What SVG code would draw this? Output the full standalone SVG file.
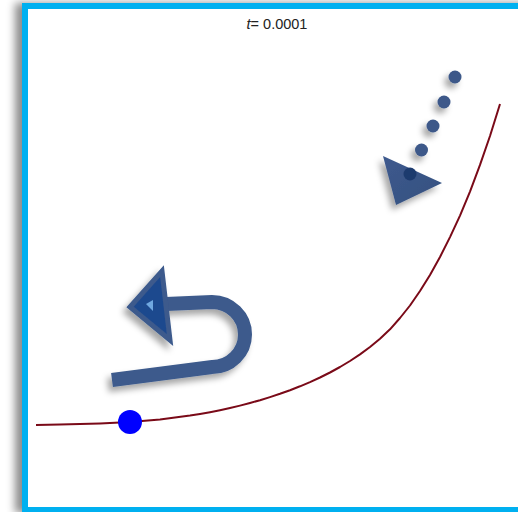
<svg xmlns="http://www.w3.org/2000/svg" width="518" height="512" viewBox="0 0 518 512">
<defs>
<style>
.dot{fill:#3D5889;}
.shape{filter:url(#sh);}
.curve{fill:none;stroke:#7A0A18;stroke-width:2;stroke-linejoin:round;}
.label{font-family:"Liberation Sans",Arial,sans-serif;font-size:14.5px;fill:#222;}
</style>
<filter id="sh" x="-30%" y="-30%" width="160%" height="160%">
<feDropShadow dx="-4" dy="5" stdDeviation="3" flood-color="#000" flood-opacity="0.35"/>
</filter>
<filter id="fsh" x="-10%" y="-10%" width="120%" height="120%">
<feDropShadow dx="-7" dy="0" stdDeviation="4" flood-color="#000" flood-opacity="0.45"/>
</filter>
<filter id="blur"><feGaussianBlur stdDeviation="0.6"/></filter>
<linearGradient id="tg" x1="0" y1="0" x2="1" y2="1">
<stop offset="0" stop-color="#3E5A8E"/>
<stop offset="1" stop-color="#34507F"/>
</linearGradient>
</defs>
<rect width="518" height="512" fill="#fff"/>
<g id="frame">
<rect x="25" y="6" width="510" height="504" fill="#fff" stroke="#00B0F0" stroke-width="6" filter="url(#fsh)"/>
</g>
<g id="title">
<text class="label" x="277" y="29" text-anchor="middle"><tspan font-style="italic">t</tspan>= 0.0001</text>
</g>
<g id="connectors">
<path class="curve" d="M36,425 L60,424.6 L80,424.1 L100,423.4 L130,422 L160,419.5 L190,415.6 L200,414 L210,412.2 L220,410.2 L230,408 L240,405.6 L250,403 L260,400.2 L270,397.1 L280,393.8 L290,390.2 L300,386.3 L310,382.1 L320,377.5 L330,372.5 L340,367 L350,361 L360,354.4 L370,347 L380,338.7 L390,329.3 L400,318 L410,305.5 L420,291 L430,275 L440,257 L450,237.1 L460,215.6 L470,191.6 L480,164.9 L490,136 L500,104"/>
</g>
<g id="marker-point">
<circle cx="130" cy="422" r="12" fill="#0000FF" filter="url(#blur)"/>
</g>
<g id="dotted-arrow" class="shape">
<circle class="dot" cx="455" cy="77" r="6.5"/>
<circle class="dot" cx="444" cy="102" r="6.5"/>
<circle class="dot" cx="433" cy="126" r="6.5"/>
<circle class="dot" cx="421.5" cy="150" r="6.5"/>
<polygon points="383,156 442,183 396,205" fill="url(#tg)"/>
<circle cx="410" cy="174" r="6.5" fill="#1E3A6E"/>
</g>
<g id="u-turn-arrow" class="shape">
<path d="M112,380 L212,367 A33,32.5 0 0 0 212,302 L166,304" fill="none" stroke="#3C5A8C" stroke-width="14"/>
<polygon points="130,307 162,271 170,340" fill="#1F4A8E" stroke="#3C5A8C" stroke-width="5" stroke-linejoin="miter"/>
<polygon points="146,304 153,300 153,311" fill="#6FA8E0"/>
</g>
</svg>
